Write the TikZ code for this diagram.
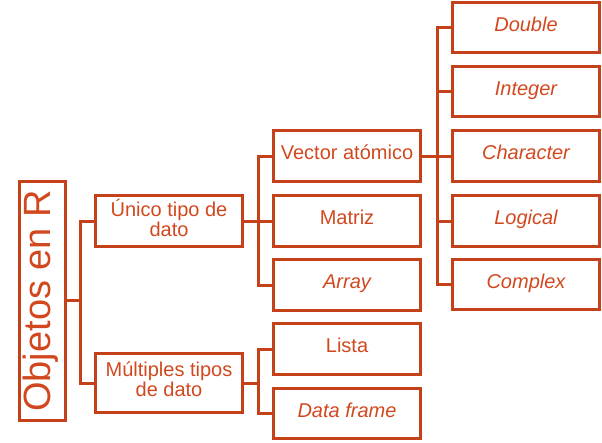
\documentclass[tikz,border=0pt]{standalone}
\usepackage{fontspec}
\setmainfont{Liberation Sans}
\definecolor{linec}{HTML}{C4411A}
\definecolor{txtc}{HTML}{D2481E}
\begin{document}
\begin{tikzpicture}[x=1pt,y=-1pt,
  box/.style={draw=linec, line width=3pt, inner sep=0pt, minimum width=147pt,
    minimum height=51pt, text=txtc, font=\fontsize{20}{20}\selectfont, align=center,
    text height=7.3pt, text depth=0pt},
  itbox/.style={box, font=\fontsize{20}{20}\selectfont\itshape},
  conn/.style={draw=linec, line width=3pt}]
\useasboundingbox (0,0) rectangle (602,442);
% root
\node[box, rotate=90, minimum width=238.7pt, minimum height=45.4pt,
  font=\fontsize{38}{44}\selectfont, text height=16.2pt] (obj) at (42.5,300.85) {Objetos en R};
% level 1
\node[box, text height=30.3pt] (uni) at (169,221) {Único tipo de\\dato};
\node[box, minimum height=59pt, text height=26.3pt] (mul) at (169,383) {Múltiples tipos\\de dato};
% level 2
\node[box] (vec) at (347,156) {Vector atómico};
\node[box] (mat) at (347,221) {Matriz};
\node[itbox] (arr) at (347,285) {Array};
\node[box] (lis) at (347,349) {Lista};
\node[itbox, minimum height=50pt] (dat) at (347,413.5) {Data frame};
% level 3
\node[itbox, minimum height=50pt] (dou) at (526,27.5) {Double};
\node[itbox, minimum height=50pt] (int) at (526,91.5) {Integer};
\node[itbox] (cha) at (526,156) {Character};
\node[itbox] (log) at (526,221) {Logical};
\node[itbox, minimum height=50pt] (com) at (526,284.5) {Complex};
% bracket positions
\coordinate (b1) at (80,0);
\coordinate (b2) at (258,0);
\coordinate (b3) at (437,0);
% connectors
\draw[conn] (obj.south) -- (obj.south -| b1);
\draw[conn] (uni.west) -- (uni.west -| b1) -- (mul.west -| b1) -- (mul.west);
\draw[conn] (uni.east) -- (mat.west);
\draw[conn] (vec.west) -- (vec.west -| b2) -- (arr.west -| b2) -- (arr.west);
\draw[conn] (mul.east) -- (mul.east -| b2);
\draw[conn] (lis.west) -- (lis.west -| b2) -- (dat.west -| b2) -- (dat.west);
\draw[conn] (vec.east) -- (cha.west);
\draw[conn] (dou.west) -- (dou.west -| b3) -- (com.west -| b3) -- (com.west);
\draw[conn] (int.west) -- (int.west -| b3);
\draw[conn] (log.west) -- (log.west -| b3);
\end{tikzpicture}
\end{document}
